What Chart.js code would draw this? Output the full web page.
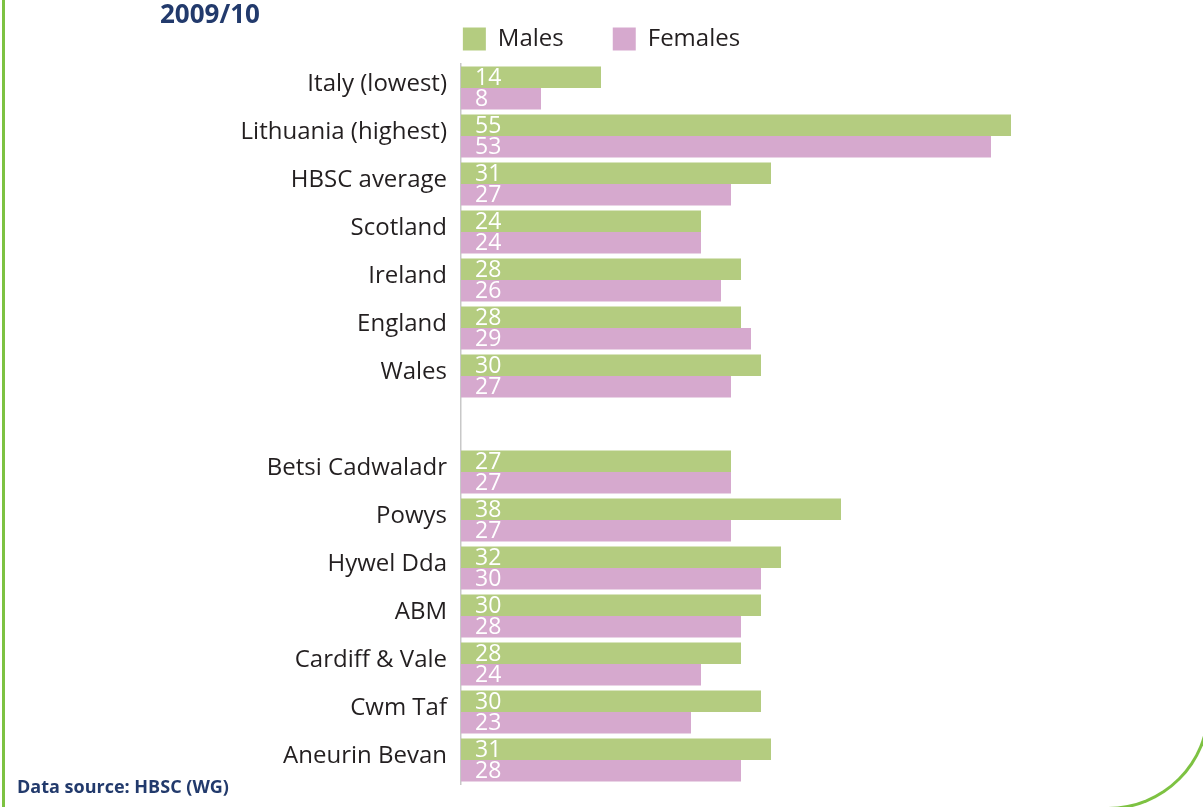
<!DOCTYPE html>
<html>
<head>
<meta charset="utf-8">
<script src="https://cdn.jsdelivr.net/npm/chart.js@4/dist/chart.umd.min.js"></script>
<style>
  html, body { margin: 0; padding: 0; overflow: hidden; background: #fff; }
  #wrap { position: relative; width: 1203px; height: 807px; overflow: hidden; }
  #frame {
    position: absolute; left: 2px; top: -20px; width: 1208px; height: 830px;
    border-left: 3px solid #7dc242; border-right: 3px solid #7dc242; border-bottom: 3px solid #7dc242;
    border-bottom-right-radius: 102px; box-sizing: border-box;
  }
  #title {
    position: absolute; left: 160px; top: -5px;
    font: bold 26px "Open Sans", sans-serif; color: #223a6c;
  }
  #source {
    position: absolute; left: 17px; top: 774px;
    font: bold 18px "Open Sans", sans-serif; color: #223a6c;
  }
  canvas { position: absolute; left: 0; top: 0; }
</style>
</head>
<body>
<div id="wrap">
  <div id="frame"></div>
  <canvas id="bar-chart" width="1203" height="807"></canvas>
  <div id="title">2009/10</div>
  <div id="source">Data source: HBSC (WG)</div>
</div>
<script>
const categories = ['Italy (lowest)', 'Lithuania (highest)', 'HBSC average', 'Scotland', 'Ireland', 'England', 'Wales', '',
  'Betsi Cadwaladr', 'Powys', 'Hywel Dda', 'ABM', 'Cardiff & Vale', 'Cwm Taf', 'Aneurin Bevan'];
const males = [14, 55, 31, 24, 28, 28, 30, null, 27, 38, 32, 30, 28, 30, 31];
const females = [8, 53, 27, 24, 26, 29, 27, null, 27, 27, 30, 28, 24, 23, 28];

const fontFamily = '"Open Sans", sans-serif';

// white value labels at the start of each bar
const valueLabels = {
  id: 'valueLabels',
  afterDatasetsDraw(chart) {
    const ctx = chart.ctx;
    ctx.save();
    ctx.fillStyle = '#ffffff';
    ctx.font = '23px ' + fontFamily;
    ctx.textAlign = 'left';
    ctx.textBaseline = 'middle';
    chart.data.datasets.forEach((ds, i) => {
      chart.getDatasetMeta(i).data.forEach((bar, j) => {
        const v = ds.data[j];
        if (v === null) return;
        ctx.fillText(v, bar.base + 14, bar.y + 1);
      });
    });
    ctx.restore();
  }
};

const ctx = document.getElementById('bar-chart');
const graph = new Chart(ctx, {
  type: 'bar',
  data: {
    labels: categories,
    datasets: [
      { label: 'Males', data: males, backgroundColor: '#b4cc80' },
      { label: 'Females', data: females, backgroundColor: '#d6a9ce' }
    ]
  },
  options: {
    indexAxis: 'y',
    responsive: false,
    animation: false,
    categoryPercentage: 0.9,
    barPercentage: 1.0,
    layout: { padding: { top: -22, right: 0, bottom: 23, left: 0 } },
    plugins: {
      legend: {
        position: 'top',
        labels: {
          boxWidth: 23,
          boxHeight: 23,
          padding: 49,
          color: '#231f20',
          font: { family: fontFamily, size: 24 }
        }
      },
      tooltip: { enabled: false }
    },
    scales: {
      x: {
        position: 'top',
        min: 0,
        max: 74.2,
        grid: { display: false },
        border: { display: false },
        ticks: { display: false },
        afterFit(axis) { axis.height = 3; }
      },
      y: {
        grid: { display: false },
        border: { display: true, color: '#c8c8c8', width: 1.5 },
        ticks: {
          color: '#231f20',
          padding: 6,
          labelOffset: -4,
          font: { family: fontFamily, size: 24 }
        },
        afterFit(axis) { axis.width = 461; }
      }
    }
  },
  plugins: [valueLabels]
});
</script>
</body>
</html>
